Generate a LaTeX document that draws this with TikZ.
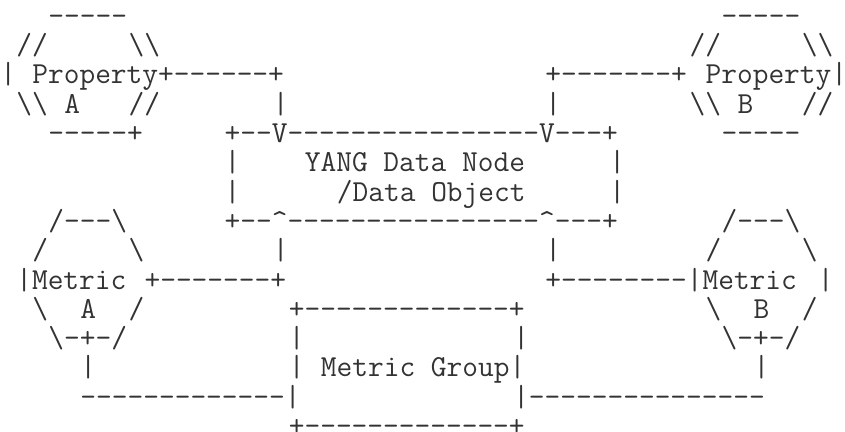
\documentclass[tikz,border=0pt]{standalone}
\usepackage{tikz}

% one character cell of the typewriter grid: 16.03pt wide, 29.3pt high
\tikzset{
  ascii/.style={anchor=base west, inner sep=0pt, outer sep=0pt,
    font=\fontsize{30.53}{30.53}\selectfont\ttfamily, text=black!80},
}
\newcommand{\bs}{\textbackslash}
\newcommand{\up}{\textasciicircum}

\begin{document}
\begin{tikzpicture}[x=16.03pt, y=-29.3pt]
\useasboundingbox (0pt,0pt) rectangle (845pt,-431pt);
\begin{scope}[shift={(0.3pt,-25.3pt)}]
% row 1
\node[ascii] (r1a) at (3,0) {-----};
\node[ascii] (r1b) at (45,0) {-----};
% row 2
\node[ascii] (r2a) at (1,1) {//};
\node[ascii] (r2b) at (8,1) {\bs\bs};
\node[ascii] (r2c) at (43,1) {//};
\node[ascii] (r2d) at (50,1) {\bs\bs};
% row 3: property A and B with their links
\node[ascii] (r3a) at (0,2) {|};
\node[ascii] (propA) at (2,2) {Property+------+};
\node[ascii] (r3c) at (34,2) {+-------+};
\node[ascii] (propB) at (44,2) {Property|};
% row 4
\node[ascii] (r4a) at (1,3) {\bs\bs};
\node[ascii] (labA) at (4,3) {A};
\node[ascii] (r4c) at (8,3) {//};
\node[ascii] (r4d) at (17,3) {|};
\node[ascii] (r4e) at (34,3) {|};
\node[ascii] (r4f) at (43,3) {\bs\bs};
\node[ascii] (labB) at (46,3) {B};
\node[ascii] (r4h) at (50,3) {//};
% row 5: top of the data node box
\node[ascii] (r5a) at (3,4) {-----+};
\node[ascii] (boxtop) at (14,4) {+--V{----}{----}{----}{----}V---+};
\node[ascii] (r5c) at (45,4) {-----};
% rows 6-7: data node box body
\node[ascii] (r6a) at (14,5) {|};
\node[ascii] (yang) at (19,5) {YANG Data Node};
\node[ascii] (r6c) at (38,5) {|};
\node[ascii] (r7a) at (14,6) {|};
\node[ascii] (dobj) at (21,6) {/Data Object};
\node[ascii] (r7c) at (38,6) {|};
% row 8: bottom of the data node box
\node[ascii] (r8a) at (3,7) {/---\bs};
\node[ascii] (boxbot) at (14,7) {+--\up{----}{----}{----}{----}\up---+};
\node[ascii] (r8c) at (45,7) {/---\bs};
% row 9
\node[ascii] (r9a) at (2,8) {/};
\node[ascii] (r9b) at (8,8) {\bs};
\node[ascii] (r9c) at (17,8) {|};
\node[ascii] (r9d) at (34,8) {|};
\node[ascii] (r9e) at (44,8) {/};
\node[ascii] (r9f) at (50,8) {\bs};
% row 10: metric A and B with their links
\node[ascii] (metA) at (1,9) {|Metric};
\node[ascii] (r10b) at (9,9) {+-------+};
\node[ascii] (metB) at (34,9) {+--------|Metric};
\node[ascii] (r10d) at (51,9) {|};
% row 11: top of the metric group box
\node[ascii] (r11a) at (2,10) {\bs};
\node[ascii] (labMA) at (5,10) {A};
\node[ascii] (r11c) at (8,10) {/};
\node[ascii] (grptop) at (18,10) {+-------------+};
\node[ascii] (r11e) at (44,10) {\bs};
\node[ascii] (labMB) at (47,10) {B};
\node[ascii] (r11g) at (50,10) {/};
% row 12
\node[ascii] (r12a) at (3,11) {\bs-+-/};
\node[ascii] (r12b) at (18,11) {|};
\node[ascii] (r12c) at (32,11) {|};
\node[ascii] (r12d) at (45,11) {\bs-+-/};
% row 13
\node[ascii] (r13a) at (5,12) {|};
\node[ascii] (r13b) at (18,12) {|};
\node[ascii] (grp) at (20,12) {Metric Group|};
\node[ascii] (r13d) at (47,12) {|};
% row 14
\node[ascii] (r14a) at (5,13) {-------------|};
\node[ascii] (r14b) at (32,13) {|---------------};
% row 15: bottom of the metric group box
\node[ascii] (grpbot) at (18,14) {+-------------+};
\end{scope}
\end{tikzpicture}
\end{document}
